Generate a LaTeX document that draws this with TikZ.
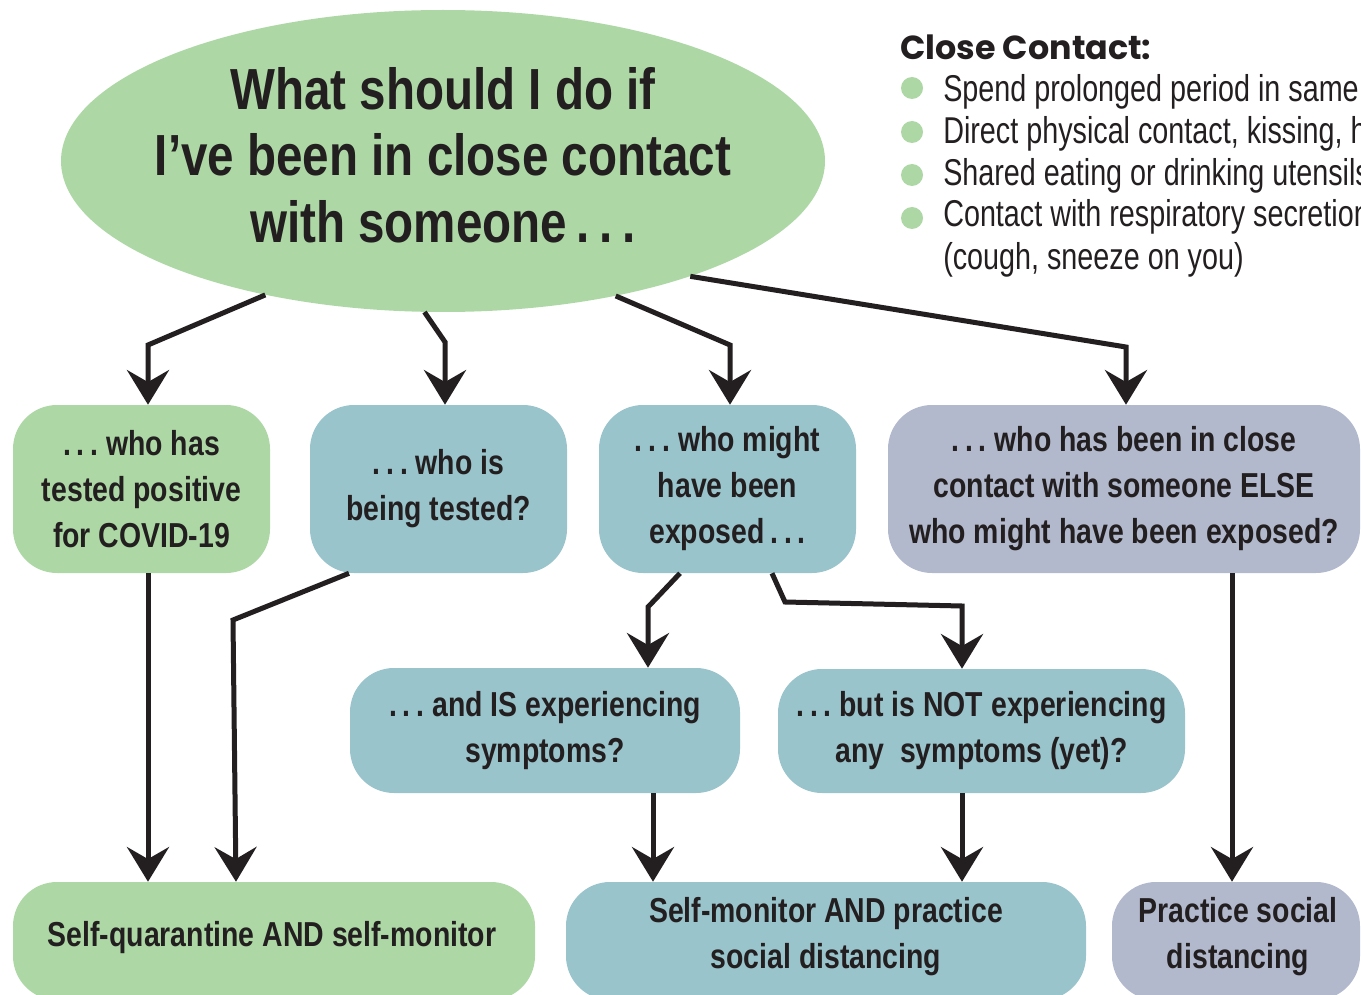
\documentclass[tikz,border=0pt]{standalone}
\usepackage{fontspec}
\setmainfont{Liberation Sans}[FakeStretch=0.82]
\newfontfamily\listfont{Liberation Sans}[FakeStretch=0.77]
\newfontfamily\headfont{Poppins}
\usetikzlibrary{arrows.meta,shapes.geometric}
\definecolor{cgreen}{RGB}{173,216,165}
\definecolor{cblue}{RGB}{153,196,203}
\definecolor{cgrey}{RGB}{178,185,204}
\definecolor{ink}{RGB}{35,31,32}
\begin{document}
\begin{tikzpicture}[x=0.75pt,y=-0.75pt,
  box/.style={rectangle, rounded corners=33pt, inner sep=0pt, align=center, text=ink,
    font=\bfseries\fontsize{26}{34.5}\selectfont},
  boxtext/.style={inner sep=0pt, align=center, text=ink,
    font=\bfseries\fontsize{26}{34.5}\selectfont},
  sz/.style 2 args={minimum width=#1*0.75pt, minimum height=#2*0.75pt},
  ellbox/.style={ellipse, fill=cgreen, inner sep=0pt},
  titletext/.style={align=center, text=ink, inner sep=0pt, font=\bfseries\fontsize{43.5}{50}\selectfont},
  bullet/.style={circle, fill=cgreen, inner sep=0pt, minimum size=16.5pt},
  listtext/.style={anchor=base west, inner sep=0pt, text=ink,
    font=\listfont\fontsize{28}{32}\selectfont},
  heading/.style={anchor=base west, inner sep=0pt, text=ink, font=\headfont\bfseries\fontsize{25}{30}\selectfont},
  arr/.style={draw=ink, line width=3.75pt, -{Stealth[length=26pt,width=31.5pt,inset=9pt]}}
]
\useasboundingbox (0,0) rectangle (1361,995);
\clip (0,0) rectangle (1361,995);

% top ellipse
\node[ellbox, minimum width=573pt, minimum height=226.5pt] (ell) at (443,161) {};
\node[titletext] (title) at (443,155) {What should I do if\\I’ve been in close contact\\with someone\,.\,.\,.};

% close contact list
\node[heading] (head) at (900,60) {Close Contact:};
\node[bullet] (b1) at (912,88) {};
\node[bullet] (b2) at (912,132) {};
\node[bullet] (b3) at (912,175) {};
\node[bullet] (b4) at (912,218) {};
\node[listtext] (l1) at (943,102) {Spend prolonged period in same};
\node[listtext] (l2) at (943,144) {Direct physical contact, kissing, hugging};
\node[listtext] (l3) at (943,186) {Shared eating or drinking utensils};
\node[listtext] (l4) at (943,227) {Contact with respiratory secretions};
\node[listtext] (l5) at (943,269) {(cough, sneeze on you)};

% second row
\node[box, fill=cgreen, sz={257}{168}] (A) at (141.5,489) {.\,.\,.\ who has\\tested positive\\for COVID-19};
\node[box, fill=cblue, sz={257}{168}] (B) at (438.5,489) {.\,.\,.\ who is\\being tested?};
\node[box, fill=cblue, sz={257}{168}] (C) at (727.5,489) {.\,.\,.\ who might\\have been\\exposed\,.\,.\,.};
\node[box, fill=cgrey, sz={472}{168}] (D) at (1124,489) {.\,.\,.\ who has been in close\\contact with someone ELSE\\who might have been exposed?};

% third row
\node[box, fill=cblue, sz={390}{125}] (E) at (545,730.5) {.\,.\,.\ and IS experiencing\\symptoms?};
\node[box, fill=cblue, sz={407}{124}] (F) at (981.5,731) {.\,.\,.\ but is NOT experiencing\\any\ \ symptoms (yet)?};

% bottom row
\node[box, fill=cgreen, sz={522}{118}] (G) at (274,941) {};
\node[box, fill=cblue, sz={520}{118}] (H) at (826,941) {};
\node[box, fill=cgrey, sz={248}{118}] (I) at (1236,941) {};
\node[boxtext] (Gt) at (272,938) {Self-quarantine AND self-monitor};
\node[boxtext] (Ht) at (826,937) {Self-monitor AND practice\\social distancing};
\node[boxtext] (It) at (1238,937) {Practice social\\distancing};

% connectors
\draw[arr] (ell.217) -- (148,345) -- (A.north -| 148,0);
\draw[arr] (ell.263) -- (445,342) -- (B.north -| 445,0);
\draw[arr] (ell.322) -- (730,345) -- (C.north -| 730,0);
\draw[arr] (ell.335) -- (1126,347) -- (D.north -| 1126,0);
\draw[arr] (A.south -| 148,0) -- (G.north -| 148,0);
\draw[arr] (B.south -| 349,0) -- (233,620) -- (G.north -| 236,0);
\draw[arr] (C.south -| 680,0) -- (648,607) -- (E.north -| 648,0);
\draw[arr] (C.south -| 772,0) -- (785,602) -- (962,606) -- (F.north -| 962,0);
\draw[arr] (E.south -| 653,0) -- (H.north -| 653,0);
\draw[arr] (F.south -| 962,0) -- (H.north -| 962,0);
\draw[arr] (D.south -| 1232,0) -- (I.north -| 1232,0);
\end{tikzpicture}
\end{document}
